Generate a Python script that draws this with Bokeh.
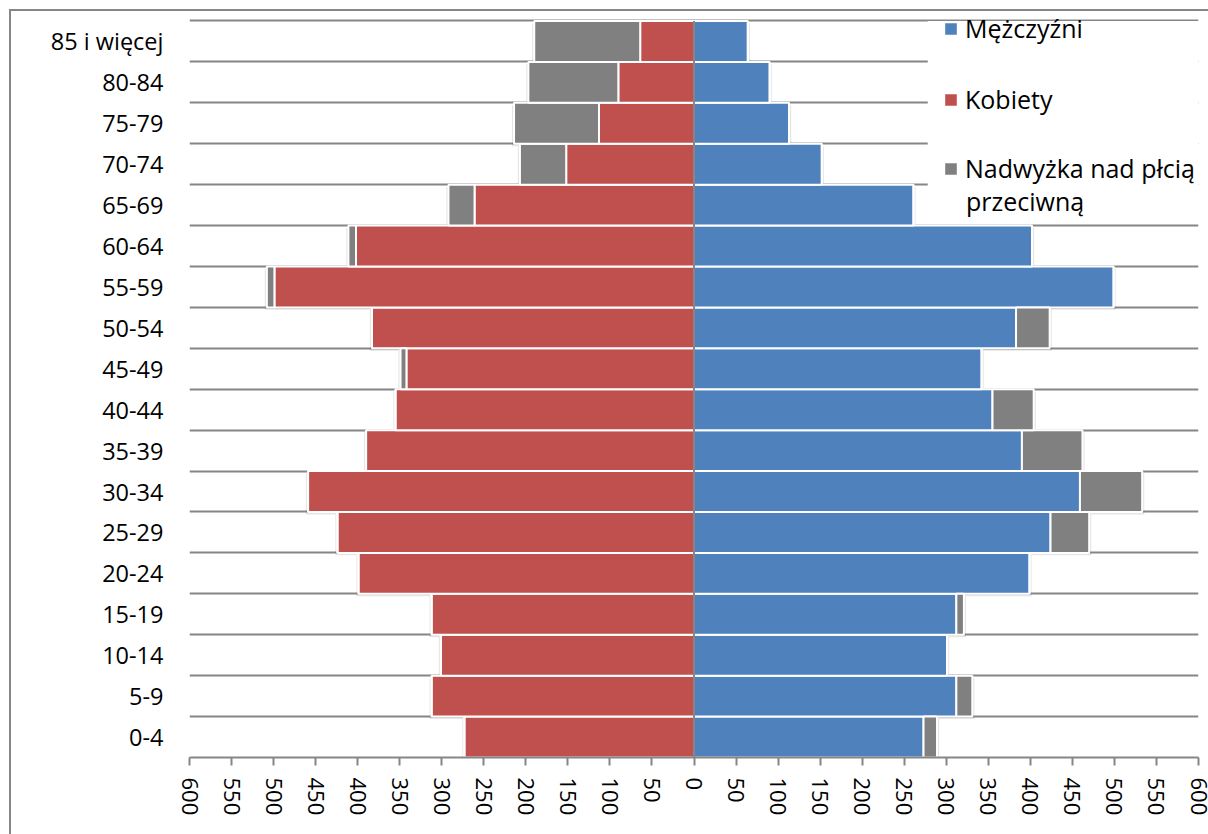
from bokeh.plotting import figure
from bokeh.models import (ColumnDataSource, FixedTicker, Legend, LegendItem,
                          BoxAnnotation, Range1d, Label)
from bokeh.embed import file_html
from bokeh.resources import INLINE

# ---- data (bottom -> top) ----
categories = ["0-4", "5-9", "10-14", "15-19", "20-24", "25-29", "30-34", "35-39",
              "40-44", "45-49", "50-54", "55-59", "60-64", "65-69", "70-74",
              "75-79", "80-84", "85 i więcej"]
men = [289, 331, 301, 321, 399, 470, 533, 462, 404, 342, 423, 499, 402, 261, 152, 113, 90, 64]
women = [273, 312, 301, 312, 399, 424, 459, 390, 355, 349, 383, 508, 411, 292, 207, 214, 197, 190]
x_ticks = list(range(-600, 601, 50))

BLUE = "#4F81BD"
RED = "#C0504D"
GRAY = "#808080"
AXIS = "#868686"
FONT = "Open Sans"

n = len(categories)
ypos = [i + 0.5 for i in range(n)]
common = [min(m, w) for m, w in zip(men, women)]

src = ColumnDataSource(dict(
    y=ypos,
    zero=[0] * n,
    men_common=common,
    women_common=[-c for c in common],
    men_total=men,
    women_total=[-w for w in women],
))
# soft shadow behind the bars (slightly larger, shifted down)
shadow = ColumnDataSource(dict(
    y=[v - 0.06 for v in ypos],
    left=[-w - 2.5 for w in women],
    right=[m + 2.5 for m in men],
))

p = figure(width=1208, height=834, output_backend="svg", toolbar_location=None,
           x_range=Range1d(-600, 600), y_range=Range1d(0, n + 0.5),
           min_border_left=189, min_border_right=10, min_border_top=0, min_border_bottom=77)
p.outline_line_color = None
p.background_fill_alpha = 0
p.border_fill_alpha = 0
p.styles = {
    "background": ("linear-gradient(#868686, #868686) 9px 9px / 2px 100% no-repeat, "
                   "linear-gradient(#868686, #868686) 9px 9px / 100% 2px no-repeat, white"),
}

p.hbar(y="y", left="left", right="right", height=1.0, source=shadow,
       fill_color="black", fill_alpha=0.10, line_alpha=0)
r_men = p.hbar(y="y", left="zero", right="men_common", height=1.0, source=src,
               fill_color=BLUE, line_color="white", line_width=2)
r_women = p.hbar(y="y", left="women_common", right="zero", height=1.0, source=src,
                 fill_color=RED, line_color="white", line_width=2)
r_gm = p.hbar(y="y", left="men_common", right="men_total", height=1.0, source=src,
              fill_color=GRAY, line_color="white", line_width=2)
r_gw = p.hbar(y="y", left="women_total", right="women_common", height=1.0, source=src,
              fill_color=GRAY, line_color="white", line_width=2)

# vertical category axis line at zero
p.segment(x0=0, y0=0, x1=0, y1=n, line_color=AXIS, line_width=2)

# axes
p.xaxis.ticker = FixedTicker(ticks=x_ticks)
p.xaxis.major_label_overrides = {t: str(abs(t)) for t in x_ticks}
p.xaxis.major_label_orientation = "vertical"
p.xaxis.axis_line_color = AXIS
p.xaxis.axis_line_width = 2
p.xaxis.major_tick_line_color = AXIS
p.xaxis.major_tick_line_width = 2
p.xaxis.major_tick_out = 8
p.xaxis.major_tick_in = 0
p.xaxis.minor_tick_line_color = None
p.xaxis.major_label_standoff = 12
p.xaxis.major_label_text_font = FONT
p.xaxis.major_label_text_font_size = "22px"
p.xaxis.major_label_text_color = "black"

p.yaxis.ticker = FixedTicker(ticks=ypos)
p.yaxis.major_label_overrides = {y: c for y, c in zip(ypos, categories)}
p.yaxis.axis_line_color = None
p.yaxis.major_tick_line_color = None
p.yaxis.minor_tick_line_color = None
p.yaxis.major_tick_out = 0
p.yaxis.major_tick_in = 0
p.yaxis.major_label_standoff = 26
p.yaxis.major_label_text_font = FONT
p.yaxis.major_label_text_font_size = "23.5px"
p.yaxis.major_label_text_color = "black"

p.xgrid.grid_line_color = None
p.ygrid.ticker = FixedTicker(ticks=list(range(n + 1)))
p.ygrid.grid_line_color = AXIS
p.ygrid.grid_line_width = 2

# white area behind legend
p.add_layout(BoxAnnotation(left=278, right=600, bottom=13.2, top=n,
                           fill_color="white", fill_alpha=1, line_alpha=0, level="underlay"))


def style_legend(lg):
    lg.background_fill_alpha = 0
    lg.border_line_alpha = 0
    lg.padding = 0
    lg.margin = 0
    lg.glyph_width = 17
    lg.glyph_height = 17
    lg.label_standoff = 6
    lg.label_text_font = FONT
    lg.label_text_font_size = "25px"
    lg.label_text_color = "black"


legend1 = Legend(items=[
    LegendItem(label="Mężczyźni", renderers=[r_men]),
    LegendItem(label="Kobiety", renderers=[r_women]),
], location=(753, 641), orientation="vertical")
style_legend(legend1)
legend1.spacing = 37
p.add_layout(legend1)

legend2 = Legend(items=[
    LegendItem(label="Nadwyżka nad płcią", renderers=[r_gm, r_gw]),
], location=(753, 572), orientation="vertical")
style_legend(legend2)
p.add_layout(legend2)

p.add_layout(Label(x=323.5, y=13.61, text="przeciwną", text_font=FONT,
                   text_font_size="25px", text_color="black", text_baseline="middle"))

open("out.html", "w").write(file_html(p, INLINE))
